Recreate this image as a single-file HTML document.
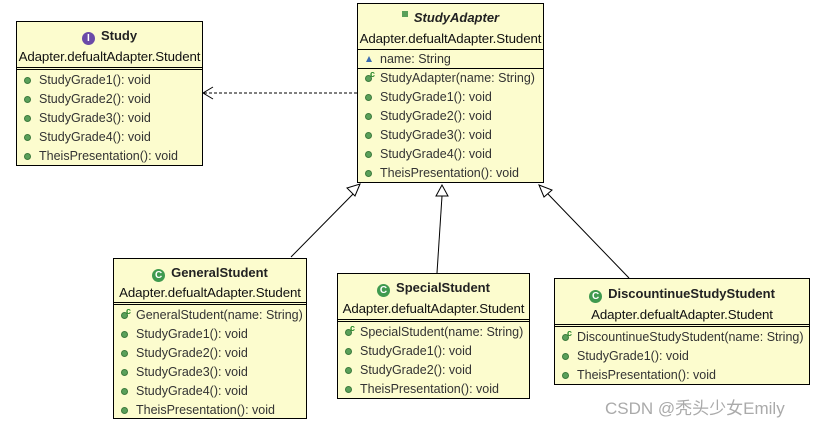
<!DOCTYPE html>
<html><head><meta charset="utf-8"><style>
body{margin:0;width:818px;height:425px;background:#fff;position:relative;overflow:hidden;font-family:"Liberation Sans","Noto Sans CJK SC",sans-serif;}
.b{position:absolute;background:#fcfcce;border:1px solid #000;box-sizing:border-box;font-size:12.5px;color:#222;}
.t{height:25px;line-height:27px;text-align:center;font-weight:bold;font-size:13px;}
.p{height:20px;line-height:20px;text-align:center;white-space:nowrap;font-size:13.3px;letter-spacing:-0.1px;color:#111}
.dl{border-top:1px solid #000;border-bottom:1px solid #000;height:1px;}
.sl{border-top:1px solid #000;}
.r{height:19px;line-height:19px;padding-left:22px;position:relative;white-space:nowrap;color:#333}
.r:before{content:"";position:absolute;left:7px;top:6px;width:7px;height:7px;border-radius:50%;background:#5aa05a;border:0.5px solid #3c7a3c;box-sizing:border-box}
.c:after{content:"c";position:absolute;left:12px;top:-4px;font-size:9px;font-weight:bold;color:#2a8a2a}
.ic{display:inline-block;width:13px;height:13px;border-radius:50%;color:#fff;font-size:10px;line-height:13px;text-align:center;margin-right:6px;vertical-align:-1px}
.tri:before{content:"";position:absolute;left:8px;top:6px;width:0;height:0;border:3px solid transparent;border-bottom:6px solid #3a6ab0;border-top:0;border-radius:0;background:none}
</style></head><body>
<svg width="818" height="425" style="position:absolute;left:0;top:0">
<line x1="357" y1="93" x2="203" y2="93" stroke="#000" stroke-dasharray="3,2"/>
<polyline points="213,87 203,93 213,99" fill="none" stroke="#000"/>
<line x1="291" y1="257" x2="357" y2="190" stroke="#000"/>
<polygon points="360,184 355,196 347,188" fill="#fff" stroke="#000"/>
<line x1="437" y1="273" x2="442" y2="196" stroke="#000"/>
<polygon points="442,185 436,196 448,196" fill="#fff" stroke="#000"/>
<line x1="629" y1="278" x2="548" y2="194" stroke="#000"/>
<polygon points="539,185 552,190 544,197" fill="#fff" stroke="#000"/>
</svg>

<div class="b" style="left:16px;top:21px;width:187px;height:145px">
<div class="t"><span class="ic" style="background:#6a4aa8">I</span>Study</div>
<div class="p">Adapter.defualtAdapter.Student</div>
<div class="dl"></div><div style="height:1px"></div>
<div class="r">StudyGrade1(): void</div><div class="r">StudyGrade2(): void</div><div class="r">StudyGrade3(): void</div><div class="r">StudyGrade4(): void</div><div class="r">TheisPresentation(): void</div>
</div>

<div class="b" style="left:357px;top:3px;width:187px;height:180px">
<div class="t"><span style="display:inline-block;width:6px;height:6px;background:#5aa05a;margin-right:6px;vertical-align:5px"></span><i>StudyAdapter</i></div>
<div class="p">Adapter.defualtAdapter.Student</div>
<div class="sl"></div>
<div class="r tri" style="height:18px;line-height:18px">name: String</div>
<div class="sl"></div>
<div class="r c">StudyAdapter(name: String)</div><div class="r">StudyGrade1(): void</div><div class="r">StudyGrade2(): void</div><div class="r">StudyGrade3(): void</div><div class="r">StudyGrade4(): void</div><div class="r">TheisPresentation(): void</div>
</div>

<div class="b" style="left:113px;top:258px;width:194px;height:161px">
<div class="t"><span class="ic" style="background:#3f9a4f">C</span>GeneralStudent</div>
<div class="p" style="height:18px;line-height:18px">Adapter.defualtAdapter.Student</div>
<div class="dl"></div><div style="height:1px"></div>
<div class="r c">GeneralStudent(name: String)</div><div class="r">StudyGrade1(): void</div><div class="r">StudyGrade2(): void</div><div class="r">StudyGrade3(): void</div><div class="r">StudyGrade4(): void</div><div class="r">TheisPresentation(): void</div>
</div>

<div class="b" style="left:337px;top:273px;width:193px;height:126px">
<div class="t"><span class="ic" style="background:#3f9a4f">C</span>SpecialStudent</div>
<div class="p">Adapter.defualtAdapter.Student</div>
<div class="dl"></div><div style="height:1px"></div>
<div class="r c">SpecialStudent(name: String)</div><div class="r">StudyGrade1(): void</div><div class="r">StudyGrade2(): void</div><div class="r">TheisPresentation(): void</div>
</div>

<div class="b" style="left:554px;top:278px;width:256px;height:107px">
<div class="t" style="line-height:29px"><span class="ic" style="background:#3f9a4f">C</span>DiscountinueStudyStudent</div>
<div class="p" style="line-height:22px">Adapter.defualtAdapter.Student</div>
<div class="dl"></div><div style="height:1px"></div>
<div class="r c">DiscountinueStudyStudent(name: String)</div><div class="r">StudyGrade1(): void</div><div class="r">TheisPresentation(): void</div>
</div>

<div style="position:absolute;left:605px;top:394px;font-size:17px;color:#aaa;white-space:nowrap">CSDN @秃头少女Emily</div>
</body></html>
